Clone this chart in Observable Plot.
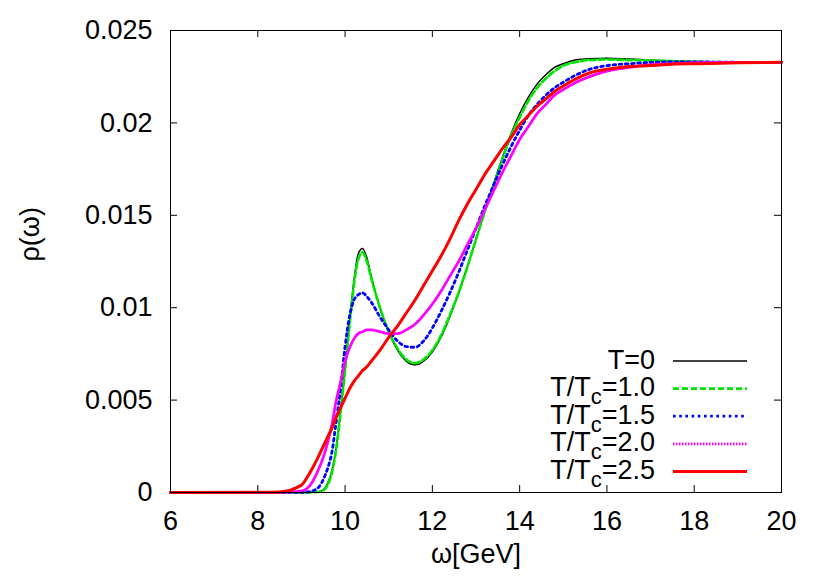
<!DOCTYPE html>
<html>
<head>
<meta charset="utf-8">
<script src="https://cdn.jsdelivr.net/npm/d3@7"></script>
<script src="https://cdn.jsdelivr.net/npm/@observablehq/plot@0.6"></script>
<style>
  html, body { margin: 0; padding: 0; background: #fff; }
  #chart { width: 830px; height: 581px; }
</style>
</head>
<body>
<div id="chart"></div>
<script>
// ---- data ----
const omega = [6, 8, 8.5, 9, 9.2, 9.4, 9.5, 9.6, 9.7, 9.8, 9.9, 10, 10.1, 10.2, 10.3, 10.4, 10.5, 10.6, 10.8, 11, 11.2, 11.4, 11.6, 11.8, 12, 12.2, 12.4, 12.6, 12.8, 13, 13.2, 13.4, 13.6, 13.8, 14, 14.2, 14.4, 14.6, 14.8, 15, 15.3, 15.6, 16, 16.5, 17, 17.5, 18, 19, 20];

const rhoT0 = [0, 0, 0, 0, 0.00001, 0.00005, 0.00015, 0.0005, 0.0012, 0.0025, 0.0045, 0.0068, 0.0092, 0.0114, 0.0129, 0.0132, 0.0127, 0.0117, 0.0100, 0.0087, 0.0077, 0.0071, 0.0069, 0.0071, 0.0076, 0.0084, 0.0095, 0.0108, 0.0122, 0.0137, 0.0152, 0.0167, 0.0181, 0.0194, 0.0205, 0.0214, 0.0221, 0.0226, 0.0230, 0.0232, 0.02342, 0.02348, 0.0235, 0.02346, 0.0234, 0.02335, 0.02332, 0.02328, 0.02328];

const rhoT10 = [0, 0, 0, 0, 0.00001, 0.00004, 0.00012, 0.0004, 0.0011, 0.0024, 0.0044, 0.0066, 0.0090, 0.0112, 0.0126, 0.0130, 0.0125, 0.0116, 0.0100, 0.0087, 0.0078, 0.0072, 0.0070, 0.0072, 0.0077, 0.0085, 0.0096, 0.0108, 0.0122, 0.0137, 0.0152, 0.0166, 0.0180, 0.0193, 0.0203, 0.0212, 0.0219, 0.0224, 0.0228, 0.0231, 0.0233, 0.0234, 0.02343, 0.0234, 0.02338, 0.02334, 0.02331, 0.02328, 0.02328];

const rhoT15 = [0, 0, 0, 0.00001, 0.00005, 0.0003, 0.0007, 0.0013, 0.0022, 0.0039, 0.0057, 0.0079, 0.0095, 0.0104, 0.0107, 0.0108, 0.0106, 0.0103, 0.0095, 0.0088, 0.0082, 0.0079, 0.00786, 0.0082, 0.0089, 0.0098, 0.0108, 0.0119, 0.0131, 0.0143, 0.0155, 0.0166, 0.0177, 0.0187, 0.0196, 0.0204, 0.0210, 0.0215, 0.0219, 0.0222, 0.0226, 0.0229, 0.0231, 0.0232, 0.02327, 0.0233, 0.0233, 0.02328, 0.02328];

const rhoT20 = [0, 0, 0.00001, 0.00008, 0.0004, 0.0013, 0.0019, 0.0027, 0.0037, 0.0050, 0.0060, 0.0071, 0.0078, 0.0083, 0.0086, 0.0087, 0.0088, 0.0088, 0.0087, 0.0086, 0.0086, 0.0088, 0.0091, 0.0096, 0.0102, 0.0109, 0.0117, 0.0125, 0.0134, 0.0143, 0.0153, 0.0163, 0.0173, 0.0182, 0.0191, 0.0198, 0.0205, 0.0210, 0.0215, 0.0218, 0.0222, 0.0225, 0.0228, 0.0230, 0.02315, 0.0232, 0.02325, 0.02328, 0.02328];

const rhoT25 = [0, 0.00001, 0.00003, 0.0004, 0.0011, 0.0020, 0.0025, 0.0030, 0.0035, 0.0041, 0.0046, 0.0051, 0.0056, 0.0060, 0.0063, 0.0066, 0.0068, 0.0071, 0.0077, 0.0084, 0.0090, 0.0097, 0.0104, 0.0112, 0.0120, 0.0128, 0.0137, 0.0147, 0.0156, 0.0164, 0.0172, 0.0179, 0.0186, 0.0192, 0.0199, 0.0204, 0.0209, 0.0213, 0.0217, 0.0220, 0.0224, 0.0227, 0.0229, 0.02305, 0.0231, 0.02318, 0.0232, 0.02325, 0.02328];

const seriesKeys = ["T0", "T10", "T15", "T20", "T25"];
const seriesValues = [rhoT0, rhoT10, rhoT15, rhoT20, rhoT25];
// legend labels: [main, subscript, rest]
const seriesLabels = [["T=0", "", ""], ["T/T", "c", "=1.0"], ["T/T", "c", "=1.5"], ["T/T", "c", "=2.0"], ["T/T", "c", "=2.5"]];

const xTicks = [6, 8, 10, 12, 14, 16, 18, 20];
const xTickLabels = ["6", "8", "10", "12", "14", "16", "18", "20"];
const yTicks = [0, 0.005, 0.01, 0.015, 0.02, 0.025];
const yTickLabels = ["0", "0.005", "0.01", "0.015", "0.02", "0.025"];

// ---- styles ----
const styles = {
  T0:  {stroke: "#000000", strokeWidth: 1.4, dash: null},
  T10: {stroke: "#00e600", strokeWidth: 2.7, dash: "6,3"},
  T15: {stroke: "#0000ff", strokeWidth: 2.8, dash: "2.6,3.6"},
  T20: {stroke: "#ff00ff", strokeWidth: 2.8, dash: "1.5,1.5"},
  T25: {stroke: "#ff0000", strokeWidth: 3, dash: null}
};

const W = 830, H = 581;
const mL = 170, mR = 49, mT = 30, mB = 89;
const fw = W - mL - mR, fh = H - mT - mB;
const FONT = "'Liberation Sans', Arial, Helvetica, sans-serif";

const tables = seriesKeys.map((k, s) => omega.map((w, i) => ({w, rho: seriesValues[s][i], k})));

const lineMarks = seriesKeys.map((k, s) => Plot.line(tables[s], {
  x: "w", y: "rho", curve: "monotone-x",
  stroke: styles[k].stroke, strokeWidth: styles[k].strokeWidth,
  strokeDasharray: styles[k].dash
}));

const svg = Plot.plot({
  width: W, height: H,
  marginLeft: mL, marginRight: mR, marginTop: mT, marginBottom: mB,
  style: {fontFamily: FONT, fontSize: "27px", background: "#fff", color: "#000"},
  x: {domain: [6, 20]},
  y: {domain: [0, 0.025]},
  marks: [
    ...lineMarks,
    Plot.frame({stroke: "#000", strokeWidth: 1}),
    // inward ticks on all four sides
    Plot.tickX(xTicks, {x: d => d, insetTop: fh - 7, stroke: "#000"}),
    Plot.tickX(xTicks, {x: d => d, insetBottom: fh - 7, stroke: "#000"}),
    Plot.tickY(yTicks, {y: d => d, insetRight: fw - 7, stroke: "#000"}),
    Plot.tickY(yTicks, {y: d => d, insetLeft: fw - 7, stroke: "#000"}),
    Plot.axisX({ticks: xTicks, tickSize: 0, tickPadding: 18, label: null,
      tickFormat: d => xTickLabels[xTicks.indexOf(d)], fontSize: 27}),
    Plot.axisY({ticks: yTicks, tickSize: 0, tickPadding: 18, label: null,
      tickFormat: d => yTickLabels[yTicks.indexOf(d)], fontSize: 27}),
    Plot.text(["ω[GeV]"], {text: d => d, frameAnchor: "bottom", dy: 70, fontSize: 27}),
    Plot.text(["ρ(ω)"], {text: d => d, frameAnchor: "left", dx: -140, rotate: -90, fontSize: 27})
  ]
});

// ---- legend inside the frame (bottom-right) ----
const g = d3.select(svg).append("g").attr("font-family", FONT).attr("font-size", 27);
const legTextRight = 655, legLineX1 = 673, legLineX2 = 747, legY0 = 361, legStep = 27.6;
seriesKeys.forEach((k, i) => {
  const y = legY0 + i * legStep;
  const st = styles[k];
  g.append("line").attr("x1", legLineX1).attr("x2", legLineX2).attr("y1", y).attr("y2", y)
    .attr("stroke", st.stroke).attr("stroke-width", st.strokeWidth)
    .attr("stroke-dasharray", st.dash);
  const t = g.append("text").attr("x", legTextRight).attr("y", y + 7.5).attr("text-anchor", "end").attr("fill", "#000");
  const [a, sub, rest] = seriesLabels[i];
  t.append("tspan").text(a);
  if (sub) {
    t.append("tspan").attr("dy", 8).attr("font-size", 22).text(sub);
    t.append("tspan").attr("dy", -8).text(rest);
  }
});

document.getElementById("chart").appendChild(svg);
</script>
</body>
</html>
